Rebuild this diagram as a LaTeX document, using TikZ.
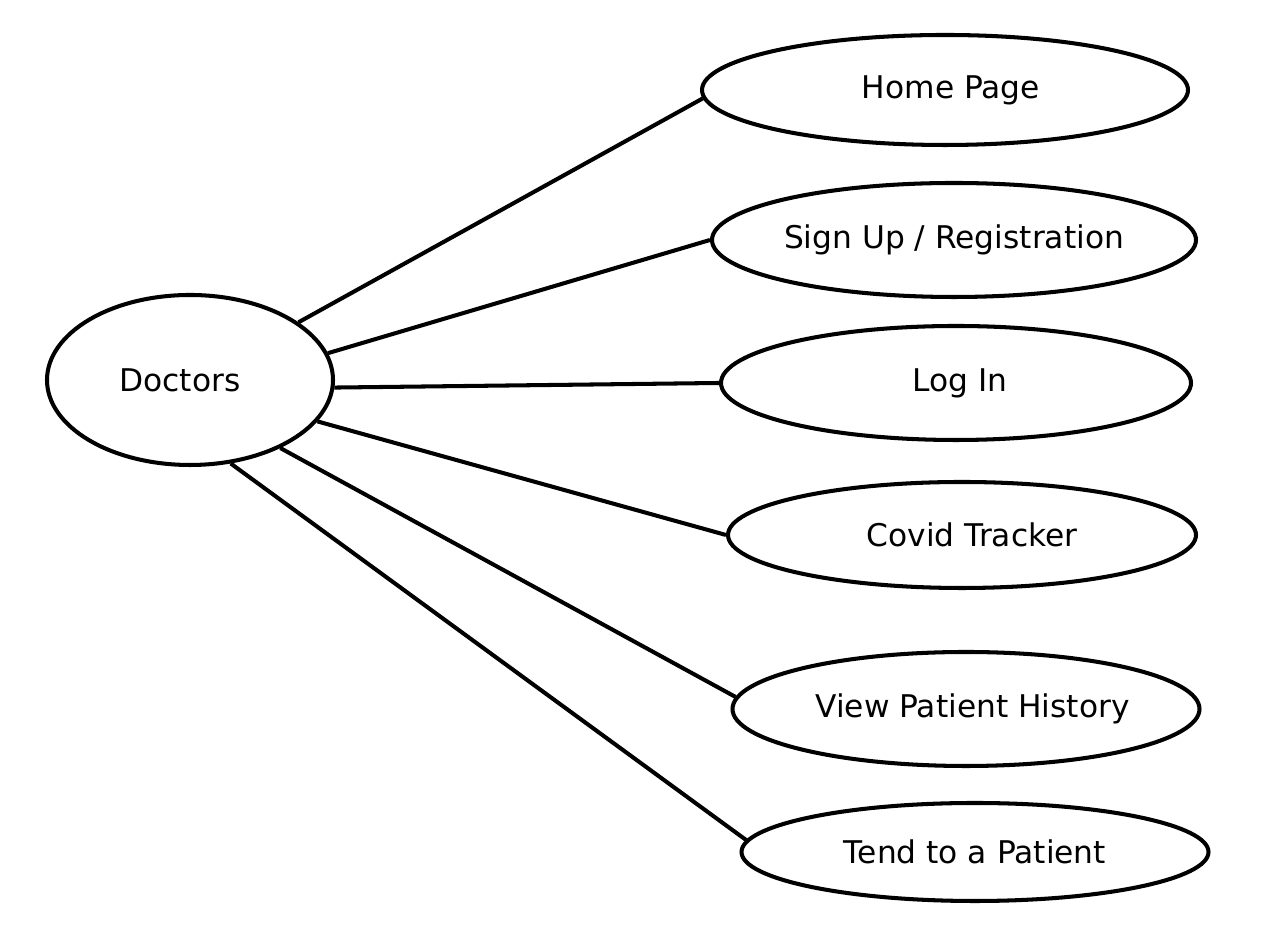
\documentclass[tikz,border=0pt]{standalone}
\usepackage{tikz}
\usepackage{xcolor}
\usepackage{fontspec}
\setmainfont{DejaVu Sans}
\usetikzlibrary{shapes.geometric}

\begin{document}
\begin{tikzpicture}[
	usecase/.style={ellipse, draw=black, line width=2.3pt, inner sep=0pt, font=\fontsize{17.8}{21}\selectfont},
	link/.style={line width=2.3pt}
	]
			% \draw [help lines] (0,0) grid (26,19);
			\useasboundingbox (0,0) rectangle (25.54,18.6);
			
			% node point
			
			\node[usecase, minimum width=5.72cm, minimum height=3.4cm] (doc) at (3.8,11.0) {\hspace*{-0.4cm}Doctors};
			\node[usecase, minimum width=9.72cm, minimum height=2.2cm] (home) at (18.9,16.8) {\hspace*{0.24cm}Home Page};
			\node[usecase, minimum width=9.68cm, minimum height=2.28cm] (sign) at (19.08,13.8) {Sign Up / Registration};
			\node[usecase, minimum width=9.4cm, minimum height=2.28cm] (login) at (19.12,10.94) {\hspace*{0.16cm}Log In};
			\node[usecase, minimum width=9.36cm, minimum height=2.12cm] (covid) at (19.24,7.9) {\hspace*{0.4cm}Covid Tracker};
			\node[usecase, minimum width=9.34cm, minimum height=2.28cm] (view) at (19.32,4.42) {\hspace*{0.26cm}View Patient History};
			\node[usecase, minimum width=9.34cm, minimum height=1.96cm] (tend) at (19.5,1.56) {Tend to a Patient};
			
			
			% draw
			
			\draw[link] (doc.28.6) -- (home.182.4);
			\draw[link] (doc.11.3) -- (sign.180.7);
			\draw[link] (doc.-3) -- (login.180.5);
			\draw[link] (doc.-18.2) -- (covid.180);
			\draw[link] (doc.-37) -- (view.177);
			\draw[link] (doc.-64) -- (tend.177.5);
			
			
		\end{tikzpicture}
\end{document}
